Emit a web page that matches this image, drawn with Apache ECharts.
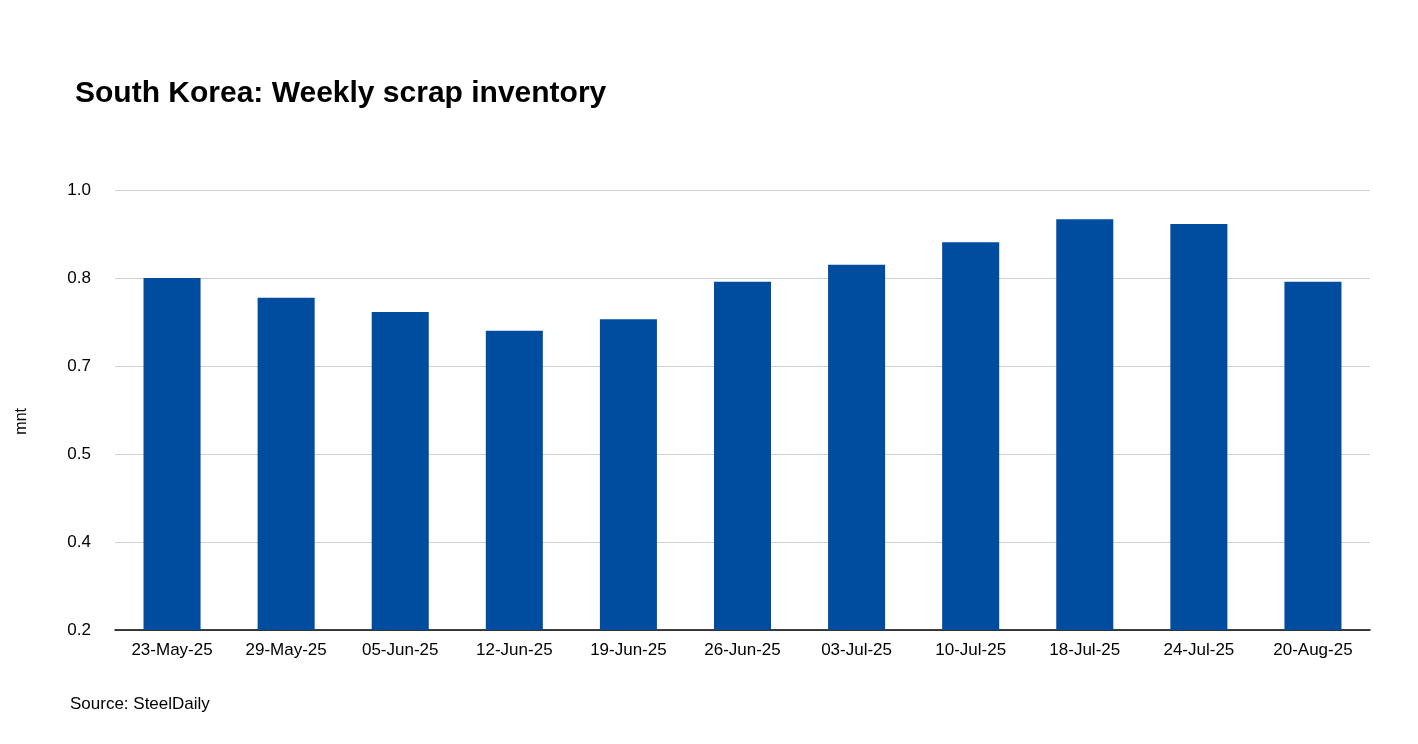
<!DOCTYPE html>
<html>
<head>
<meta charset="utf-8">
<script src="https://cdn.jsdelivr.net/npm/echarts@6/dist/echarts.min.js"></script>
<style>
  html, body { margin: 0; padding: 0; background: #fff; }
  #chart { width: 1418px; height: 744px; }
</style>
</head>
<body>
<div id="chart"></div>
<script>
const weeks  = ["23-May-25","29-May-25","05-Jun-25","12-Jun-25","19-Jun-25","26-Jun-25",
                "03-Jul-25","10-Jul-25","18-Jul-25","24-Jul-25","20-Aug-25"];
const stocks = [0.840, 0.804, 0.778, 0.744, 0.765, 0.833, 0.864, 0.905, 0.947, 0.938, 0.833];

const chart = echarts.init(document.getElementById("chart"));
chart.setOption({
  animation: false,
  textStyle: { fontFamily: "Liberation Sans, Arial, sans-serif" },
  title: {
    text: "South Korea: Weekly scrap inventory",
    left: 70, top: 74,
    textStyle: { fontSize: 30, fontWeight: "bold", color: "#000" },
  },
  graphic: [
    { type: "text", left: 70, top: 696,
      style: { text: "Source: SteelDaily", fontSize: 17, fill: "#000" } },
    { type: "text", left: 14, top: 408, rotation: Math.PI / 2,
      style: { text: "mnt", fontSize: 16, fill: "#000" } },
  ],
  grid: { left: 115, right: 48, top: 190, bottom: 114 },
  xAxis: {
    type: "category", data: weeks,
    axisLine: { lineStyle: { color: "#000", width: 1.5 } },
    axisTick: { show: false },
    axisLabel: { color: "#000", fontSize: 17, margin: 12, interval: 0 },
  },
  yAxis: {
    type: "value", min: 0.2, max: 1.0, interval: 0.16,
    axisLine: { show: false }, axisTick: { show: false },
    axisLabel: { color: "#000", fontSize: 17, margin: 24, formatter: v => v.toFixed(1) },
    splitLine: { lineStyle: { color: "#d0d0d0", width: 1.2 } },
  },
  series: [{
    type: "bar", data: stocks, barWidth: "50%",
    itemStyle: { color: "#004c9f" },
  }],
});
</script>
</body>
</html>
